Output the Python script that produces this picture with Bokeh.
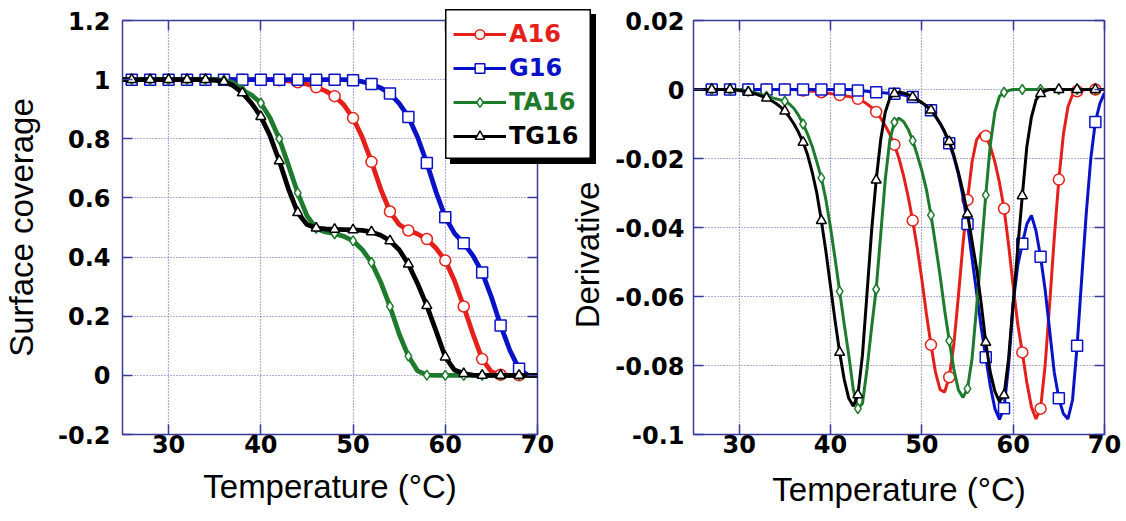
from bokeh.plotting import figure
from bokeh.models import (Legend, LegendItem, LinearAxis, Range1d, GridBox,
                          FixedTicker, CustomJSTickFormatter)
from bokeh.embed import file_html
from bokeh.resources import INLINE

# ---------------- data ----------------
temp_cov = [25, 26, 27, 28, 29, 30, 31, 32, 33, 34, 35, 36, 37, 38, 39, 40, 41, 42, 43, 44, 45, 46, 47,
            48, 49, 50, 51, 52, 53, 54, 55, 56, 57, 58, 59, 60, 61, 62, 63, 64, 65, 66, 67, 68, 69, 70]

cov_A16 = [1, 1, 1, 1, 1, 1, 1, 1, 1, 1, 1, 1, 1, 1, 1, 1, 1,
           0.998, 0.996, 0.991, 0.985, 0.974, 0.962, 0.944, 0.915, 0.87, 0.805, 0.722, 0.63, 0.554,
           0.51, 0.49, 0.478, 0.461, 0.43, 0.388, 0.32, 0.233, 0.14, 0.055, 0.012, 0.002,
           0, 0, 0, 0]
cov_G16 = [1, 1, 1, 1, 1, 1, 1, 1, 1, 1, 1, 1, 1, 1, 1, 1, 1, 1, 1, 1, 1, 1, 1, 1, 1,
           0.998, 0.993, 0.985, 0.972, 0.953, 0.92, 0.874, 0.805, 0.718, 0.62, 0.535, 0.48, 0.447,
           0.405, 0.348, 0.265, 0.169, 0.085, 0.022, 0, 0]
cov_TA16 = [1, 1, 1, 1, 1, 1, 1, 1, 1, 1, 1,
            0.998, 0.99, 0.965, 0.948, 0.921, 0.87, 0.80, 0.71, 0.617, 0.54, 0.497, 0.485, 0.479,
            0.47, 0.455, 0.425, 0.382, 0.315, 0.233, 0.14, 0.065, 0.015, 0.001,
            0, 0, 0, 0, 0, 0, 0, 0, 0, 0, 0, 0]
cov_TG16 = [1, 1, 1, 1, 1, 1, 1, 1, 1, 1, 0.998, 0.993, 0.98, 0.955, 0.92, 0.875, 0.81, 0.725,
            0.63, 0.55, 0.51, 0.498, 0.495, 0.494, 0.493, 0.492, 0.49, 0.485, 0.474, 0.455, 0.425,
            0.376, 0.31, 0.236, 0.15, 0.062, 0.018, 0.006, 0.001, 0, 0, 0, 0, 0, 0, 0]

temp_der = [25.0, 25.5, 26.0, 26.5, 27.0, 27.5, 28.0, 28.5, 29.0, 29.5,
            30.0, 30.5, 31.0, 31.5, 32.0, 32.5, 33.0, 33.5, 34.0, 34.5,
            35.0, 35.5, 36.0, 36.5, 37.0, 37.5, 38.0, 38.5, 39.0, 39.5,
            40.0, 40.5, 41.0, 41.5, 42.0, 42.5, 43.0, 43.5, 44.0, 44.5,
            45.0, 45.5, 46.0, 46.5, 47.0, 47.5, 48.0, 48.5, 49.0, 49.5,
            50.0, 50.5, 51.0, 51.5, 52.0, 52.5, 53.0, 53.5, 54.0, 54.5,
            55.0, 55.5, 56.0, 56.5, 57.0, 57.5, 58.0, 58.5, 59.0, 59.5,
            60.0, 60.5, 61.0, 61.5, 62.0, 62.5, 63.0, 63.5, 64.0, 64.5,
            65.0, 65.5, 66.0, 66.5, 67.0, 67.5, 68.0, 68.5, 69.0, 69.5, 70.0]

der_A16 = [0, 0, 0, 0, 0, 0, 0, 0, 0, 0,
           0, 0, 0, 0, 0, 0, 0, 0, 0, 0,
           0, 0, 0, -0.0002, -0.0003, -0.0004, -0.0005, -0.0006, -0.0008, -0.001,
           -0.0012, -0.0014, -0.0016, -0.0018, -0.002, -0.0023, -0.0027, -0.0033, -0.0042, -0.0052,
           -0.0065, -0.0083, -0.0105, -0.013, -0.016, -0.020, -0.025, -0.031, -0.038, -0.046,
           -0.055, -0.065, -0.074, -0.082, -0.087, -0.0877, -0.0834, -0.074, -0.060, -0.045,
           -0.032, -0.021, -0.0145, -0.0127, -0.0135, -0.0165, -0.021, -0.027, -0.0345, -0.045,
           -0.057, -0.068, -0.0762, -0.085, -0.092, -0.0955, -0.0925, -0.08, -0.062, -0.043,
           -0.0261, -0.013, -0.005, -0.0015, -0.0005, -0.0002, 0, 0, 0, 0, 0]
der_G16 = [0, 0, 0, 0, 0, 0, 0, 0, 0, 0,
           0, 0, 0, 0, 0, 0, 0, 0, 0, 0,
           0, 0, 0, 0, 0, 0, 0, 0, 0, 0,
           0, 0, 0, 0, 0, -0.0001, -0.0003, -0.0004, -0.0005, -0.0007,
           -0.0008, -0.0009, -0.001, -0.0011, -0.0012, -0.0014, -0.0016, -0.0019, -0.0022, -0.003,
           -0.0038, -0.0048, -0.006, -0.0078, -0.0098, -0.0125, -0.0156, -0.0195, -0.0245, -0.031,
           -0.039, -0.049, -0.059, -0.069, -0.0776, -0.086, -0.0925, -0.0956, -0.0924, -0.08,
           -0.062, -0.051, -0.0447, -0.039, -0.0365, -0.041, -0.0485, -0.058, -0.07, -0.082,
           -0.0895, -0.094, -0.0955, -0.09, -0.0743, -0.055, -0.036, -0.02, -0.0094, -0.004, -0.001]
der_TA16 = [0, 0, 0, 0, 0, 0, 0, 0, 0, 0,
            0, -0.0003, -0.0005, -0.0008, -0.0011, -0.0015, -0.0019, -0.0023, -0.0027, -0.003,
            -0.0034, -0.0042, -0.0055, -0.0075, -0.010, -0.013, -0.0165, -0.021, -0.0256, -0.032,
            -0.040, -0.049, -0.0585, -0.068, -0.077, -0.087, -0.0925, -0.091, -0.081, -0.069,
            -0.0579, -0.042, -0.026, -0.0145, -0.0095, -0.0083, -0.0093, -0.0115, -0.0148, -0.019,
            -0.0235, -0.029, -0.0364, -0.045, -0.054, -0.064, -0.0728, -0.081, -0.087, -0.0893,
            -0.0867, -0.078, -0.063, -0.047, -0.0306, -0.016, -0.0065, -0.002, -0.0008, -0.0003,
            0, 0, 0, 0, 0, 0, 0, 0, 0, 0,
            0, 0, 0, 0, 0, 0, 0, 0, 0, 0, 0]
der_TG16 = [0, 0, 0, 0, 0, 0, 0, 0, 0, -0.0001,
            -0.0003, -0.0005, -0.0008, -0.0011, -0.0015, -0.002, -0.0025, -0.0032, -0.004, -0.005,
            -0.0063, -0.008, -0.010, -0.0124, -0.0153, -0.019, -0.024, -0.030, -0.038, -0.047,
            -0.057, -0.067, -0.0762, -0.084, -0.0895, -0.0918, -0.0885, -0.077, -0.059, -0.041,
            -0.0263, -0.0145, -0.0065, -0.0025, -0.0012, -0.0008, -0.001, -0.0015, -0.0022, -0.003,
            -0.0038, -0.0048, -0.006, -0.0078, -0.0098, -0.0122, -0.0151, -0.019, -0.024, -0.0295,
            -0.0361, -0.044, -0.052, -0.062, -0.0733, -0.082, -0.0875, -0.0905, -0.0886, -0.078,
            -0.062, -0.046, -0.0308, -0.0165, -0.008, -0.003, -0.0012, -0.0004, 0, 0,
            0, 0, 0, 0, 0, 0, 0, 0, 0, 0, 0]

names = ["A16", "G16", "TA16", "TG16"]
colors = ["#E5201B", "#0A12C8", "#1E7A2C", "#000000"]
markers = ["circle", "square", "diamond", "triangle"]
cov_series = [cov_A16, cov_G16, cov_TA16, cov_TG16]
der_series = [der_A16, der_G16, der_TA16, der_TG16]

x_ticks = [30, 40, 50, 60, 70]
cov_ticks = [-0.2, 0, 0.2, 0.4, 0.6, 0.8, 1.0, 1.2]
der_ticks = [-0.1, -0.08, -0.06, -0.04, -0.02, 0, 0.02]

# ---------------- styling ----------------
TICK_FONT = "DejaVu Sans"
LABEL_FONT = "Liberation Sans"
FRAME = "#3A3A9C"
GRIDC = "#5C5CB4"
H = 519
marker_sizes = [11, 11, 10, 10]
NBSP = "\u00a0"


def make_fig(width, mbl, mbr, mbt, frame_h, yr, yticks, ylabel,
             y_lab_standoff, y_standoff, x_standoff):
    p = figure(width=width, height=H, x_range=Range1d(25, 70), y_range=Range1d(*yr),
               output_backend="svg", toolbar_location=None, title=None,
               min_border_left=mbl, min_border_right=mbr, min_border_top=mbt,
               min_border_bottom=H - mbt - frame_h)
    p.outline_line_color = FRAME
    p.outline_line_width = 1.5
    xt = FixedTicker(ticks=x_ticks)
    yt = FixedTicker(ticks=yticks)
    p.xaxis[0].ticker = xt
    p.yaxis[0].ticker = yt
    p.yaxis[0].formatter = CustomJSTickFormatter(code="return String(Number(tick.toFixed(3)));")
    p.xaxis[0].axis_label = "Temperature (°C)"
    p.yaxis[0].axis_label = ylabel
    for ax in (p.xaxis[0], p.yaxis[0]):
        ax.axis_line_color = None
        ax.major_tick_in = 10
        ax.major_tick_out = 0
        ax.major_tick_line_color = FRAME
        ax.major_tick_line_width = 1.5
        ax.minor_tick_line_color = None
        ax.major_label_text_font = TICK_FONT
        ax.major_label_text_font_size = "24px"
        ax.major_label_text_font_style = "bold"
        ax.major_label_text_color = "black"
        ax.axis_label_text_font = LABEL_FONT
        ax.axis_label_text_font_size = "33px"
        ax.axis_label_text_font_style = "normal"
        ax.axis_label_text_color = "black"
    p.xaxis[0].major_label_standoff = 0
    p.xaxis[0].axis_label_standoff = x_standoff
    p.yaxis[0].major_label_standoff = y_lab_standoff
    p.yaxis[0].axis_label_standoff = y_standoff
    for loc, tk in (("above", xt), ("right", yt)):
        ax = LinearAxis(ticker=tk, formatter=CustomJSTickFormatter(code="return '';"),
                        major_tick_in=10, major_tick_out=0, major_tick_line_color=FRAME,
                        major_tick_line_width=1.5, minor_tick_line_color=None,
                        axis_line_color=None, major_label_standoff=0,
                        major_label_text_font_size="1px")
        p.add_layout(ax, loc)
    p.xgrid.ticker = xt
    p.ygrid.ticker = yt
    for g in (p.xgrid[0], p.ygrid[0]):
        g.grid_line_color = GRIDC
        g.grid_line_dash = "1 2"
        g.grid_line_width = 1.2
    return p


# ---------------- left: surface coverage ----------------
p1 = make_fig(566, 120, 29, 20, 417, (-0.2, 1.2), cov_ticks, "Surface coverage", 12, 15, 12)

for name, c, m, ms, ys in zip(names, colors, markers, marker_sizes, cov_series):
    p1.line(temp_cov, ys, line_color=c, line_width=4.8)
    p1.scatter(temp_cov[1:44:2], ys[1:44:2], marker=m, size=ms, fill_color="white",
               line_color=c, line_width=1.5)

# ---------------- right: derivative ----------------
# trailing no-break spaces move the centred label down a little, as in the original
p2 = make_fig(558, 122, 20, 17, 417, (-0.1, 0.02), der_ticks, "Derivative" + NBSP * 6,
              9, 6, 15)

for name, c, m, ms, ys in zip(names, colors, markers, marker_sizes, der_series):
    p2.line(temp_der, ys, line_color=c, line_width=3)
    p2.scatter(temp_der[4:89:4], ys[4:89:4], marker=m, size=ms, fill_color="white",
               line_color=c, line_width=1.5)

# ---------------- legend box (separate small plot laid over the gap) ----------------
# its ranges lie outside the data, so only the legend entries are visible
p3 = figure(frame_width=146, frame_height=150, x_axis_type=None, y_axis_type=None,
            x_range=Range1d(0, 1), y_range=Range1d(0, 1),
            output_backend="svg", toolbar_location=None, title=None, min_border=0)
p3.grid.visible = False
p3.outline_line_color = "black"
p3.outline_line_width = 2
p3.background_fill_color = "white"
p3.border_fill_color = "white"
p3.styles = {"box-shadow": "5px 5px 0px 0px #000000"}

centers = [25, 59, 93, 127]   # item centres, px from the box top
for name, c, m, ms, ys, cy in zip(names, colors, markers, marker_sizes, cov_series, centers):
    rl = p3.line(temp_cov, ys, line_color=c, line_width=3)
    rm = p3.scatter(temp_cov[1:44:2], ys[1:44:2], marker=m, size=ms, fill_color="white",
                    line_color=c, line_width=1.5)
    leg = Legend(items=[LegendItem(label=name, renderers=[rl, rm])],
                 location=(8, 150 - (cy + 14)),
                 border_line_alpha=0, background_fill_alpha=0,
                 label_text_color=c, label_text_font=TICK_FONT, label_text_font_style="bold",
                 label_text_font_size="24px", glyph_width=53, glyph_height=24,
                 label_height=28, label_standoff=3, padding=0, margin=0, spacing=0)
    p3.add_layout(leg)

layout = GridBox(children=[(p1, 0, 0, 3, 2), (p2, 0, 2, 3, 2), (p3, 1, 1, 1, 2)],
                 cols=["445px", "121px", "30px", "528px"],
                 rows=["9px", "150px", "360px"])
open("out.html", "w").write(file_html(layout, INLINE))
